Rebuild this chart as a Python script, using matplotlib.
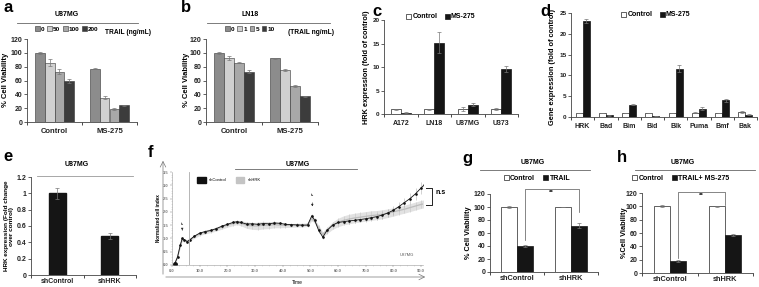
import numpy as np
import matplotlib.pyplot as plt
from matplotlib.patches import Patch
from matplotlib.lines import Line2D

plt.rcParams['font.family'] = ['Liberation Sans', 'DejaVu Sans']
plt.rcParams['font.weight'] = 'bold'

# ---- data ----
a_groups = ['Control', 'MS-275']
a_doses = ['0', '50', '100', '200']
a_vals = [[100, 77], [86, 35], [73, 19], [59, 24]]
a_err = [[1, 1], [5, 2], [3, 1], [3, 1]]

b_doses = ['0', '1', '5', '10']
b_vals = [[100, 92], [92, 75], [86, 52], [73, 37]]
b_err = [[1, 0.5], [3, 1], [1, 1], [2, 0.5]]

c_lines = ['A172', 'LN18', 'U87MG', 'U373']
c_ctrl = [1.0, 1.0, 1.1, 1.0]
c_ctrl_err = [0.05, 0.05, 0.4, 0.2]
c_ms = [0.3, 15.2, 2.0, 9.6]
c_ms_err = [0.05, 2.3, 0.4, 0.6]

d_genes = ['HRK', 'Bad', 'Bim', 'Bid', 'Blk', 'Puma', 'Bmf', 'Bak']
d_ctrl = [1.0, 1.0, 1.0, 1.0, 1.0, 1.0, 1.0, 1.2]
d_ctrl_err = [0.0, 0.0, 0.0, 0.0, 0.0, 0.1, 0.0, 0.15]
d_ms = [23.0, 0.4, 3.0, 0.3, 11.6, 2.0, 4.0, 0.6]
d_ms_err = [0.5, 0.05, 0.2, 0.05, 0.8, 0.3, 0.3, 0.1]

e_labels = ['shControl', 'shHRK']
e_vals = [1.0, 0.48]
e_err = [0.07, 0.04]

f_time = [1, 2, 3, 3.7, 4.5, 5.5, 6.5, 8, 10, 12, 14, 16, 18, 20, 22, 23.5, 25, 27,
          29, 31, 33, 35, 37, 39, 41, 43, 45, 47,
          49, 50.5, 51.5, 53, 54.5, 56, 58, 60, 62, 64, 66, 68, 70, 72, 74, 76, 78,
          80, 82, 84, 86, 88, 90, 91]
f_ctrl = [0.05, 0.3, 0.75, 1.0, 0.95, 0.88, 0.95, 1.08, 1.2, 1.26, 1.3, 1.37, 1.46, 1.53,
          1.6, 1.63, 1.6, 1.54, 1.55, 1.53, 1.56, 1.55, 1.58, 1.57, 1.53, 1.52, 1.51, 1.5,
          1.5, 1.85, 1.7, 1.3, 1.05, 1.3, 1.5, 1.6, 1.63, 1.66, 1.68, 1.71, 1.74, 1.78,
          1.82, 1.88, 1.96, 2.06, 2.2, 2.35, 2.5, 2.68, 2.9, 3.0]
f_ctrl_err = [0.02, 0.03, 0.04, 0.04, 0.04, 0.04, 0.04, 0.04, 0.05, 0.05, 0.05, 0.05, 0.05,
              0.05, 0.05, 0.05, 0.05, 0.06, 0.06, 0.06, 0.06, 0.06, 0.06, 0.06, 0.06, 0.06,
              0.06, 0.06,
              0.06, 0.08, 0.08, 0.08, 0.08, 0.08, 0.08, 0.08, 0.09, 0.1, 0.1, 0.1, 0.11,
              0.12, 0.13, 0.14, 0.15, 0.16, 0.17, 0.18, 0.2, 0.22, 0.24, 0.25]
f_hrk = [0.05, 0.3, 0.72, 0.97, 0.93, 0.9, 0.95, 1.06, 1.17, 1.24, 1.29, 1.35, 1.43, 1.5,
         1.56, 1.6, 1.57, 1.5, 1.47, 1.47, 1.5, 1.5, 1.52, 1.5, 1.49, 1.49, 1.5, 1.5,
         1.52, 1.75, 1.66, 1.4, 1.15, 1.3, 1.48, 1.6, 1.68, 1.73, 1.77, 1.8, 1.83, 1.86,
         1.88, 1.91, 1.95, 2.0, 2.05, 2.1, 2.16, 2.22, 2.28, 2.3]
f_hrk_err = [0.03, 0.04, 0.05, 0.05, 0.05, 0.05, 0.05, 0.06, 0.06, 0.07, 0.07, 0.07, 0.08,
             0.08, 0.08, 0.08, 0.1, 0.12, 0.13, 0.14, 0.14, 0.13, 0.12, 0.1, 0.08, 0.07,
             0.07, 0.07,
             0.07, 0.08, 0.08, 0.09, 0.1, 0.12, 0.14, 0.16, 0.17, 0.18, 0.18, 0.18, 0.18,
             0.18, 0.17, 0.17, 0.16, 0.16, 0.15, 0.15, 0.15, 0.15, 0.15, 0.15]

g_ctrl = [100, 100]
g_ctrl_err = [1.5, 0.5]
g_trail = [40, 71]
g_trail_err = [1.5, 4]

h_ctrl = [100, 100]
h_ctrl_err = [1.5, 1]
h_trail = [18, 57]
h_trail_err = [1, 1.5]

# ---- layout helpers (pixel coords, origin top-left) ----
W, H = 759, 287
fig = plt.figure(figsize=(W / 100, H / 100), dpi=100)


def fx(x):
    return x / W


def fy(y):
    return 1 - y / H


def box(x0, y0, x1, y1):
    return [x0 / W, 1 - y1 / H, (x1 - x0) / W, (y1 - y0) / H]


def excel_axes(x0, y0, x1, y1, fs=5):
    ax = fig.add_axes(box(x0, y0, x1, y1))
    ax.spines['top'].set_visible(False)
    ax.spines['right'].set_visible(False)
    for s in ['left', 'bottom']:
        ax.spines[s].set_linewidth(0.6)
        ax.spines[s].set_color('#444444')
    ax.tick_params(labelsize=fs, width=0.5, length=2, pad=1.2, colors='#222222')
    return ax


def cat_ticks(ax, labels, fs=5.5, pad=4):
    n = len(labels)
    ax.set_xlim(-0.5, n - 0.5)
    ax.set_xticks(range(n))
    ax.set_xticklabels(labels, fontsize=fs)
    ax.tick_params(axis='x', which='major', length=0, pad=pad)
    ax.set_xticks(np.arange(n + 1) - 0.5, minor=True)
    ax.tick_params(axis='x', which='minor', length=2, width=0.5)


def hline(x0, x1, y, color='#666666', lw=0.6):
    fig.add_artist(Line2D([fx(x0), fx(x1)], [fy(y), fy(y)], color=color, lw=lw))


def letter(x, y, s):
    fig.text(fx(x), fy(y), s, fontsize=12, fontweight='bold', va='center', ha='left')


def ylab(x, y, s, fs=5.5):
    fig.text(fx(x), fy(y), s, rotation=90, ha='center', va='center', fontsize=fs)


def flegend(handles, labels, x, y, ncol, fs=5, spacing=0.6):
    fig.legend(handles, labels, loc='center', bbox_to_anchor=(fx(x), fy(y)),
               ncol=ncol, fontsize=fs, frameon=False, handlelength=0.7,
               handleheight=0.7, handletextpad=0.2, columnspacing=spacing,
               borderpad=0, borderaxespad=0)


ekw = dict(ecolor='#777777', elinewidth=0.5, capsize=1.2, capthick=0.5)
grays = ['#8c8c8c', '#d0d0d0', '#a8a8a8', '#3c3c3c']


def dose_panel(rect, vals, errs, doses, title, tx, lx0, lx1, legx, trail, trx):
    ax = excel_axes(*rect)
    x = np.arange(len(a_groups))
    w = 0.18
    for i in range(len(doses)):
        ax.bar(x + (i - 1.5) * w, vals[i], w, yerr=errs[i], color=grays[i],
               edgecolor='#333333', lw=0.4, error_kw=ekw)
    ax.set_ylim(0, 120)
    ax.set_yticks(range(0, 121, 20))
    cat_ticks(ax, a_groups)
    fig.text(fx(tx), fy(15), title, fontsize=5, ha='center', va='center')
    hline(lx0, lx1, 23)
    handles = [Patch(facecolor=grays[i], edgecolor='#333333', lw=0.4) for i in range(4)]
    flegend(handles, doses, legx, 29, 4, fs=4.6, spacing=0.45)
    fig.text(fx(trx), fy(33), trail, fontsize=4.8, ha='center', va='center')
    return ax


# ---- a ----
letter(3, 8, 'a')
dose_panel((27, 39, 137, 122), a_vals, a_err, a_doses, 'U87MG', 67, 17, 138, 67,
           'TRAIL (ng/mL)', 128)
ylab(6, 80, '% Cell Viability')

# ---- b ----
letter(181, 8, 'b')
dose_panel((206, 39, 318, 122), b_vals, b_err, b_doses, 'LN18', 250, 207, 330, 250,
           '(TRAIL ng/mL)', 311)
ylab(187, 80, '% Cell Viability')


def pair_bars(ax, ctrl, ctrl_err, trt, trt_err, w):
    x = np.arange(len(ctrl))
    ax.bar(x - w / 2, ctrl, w, yerr=ctrl_err, color='white', edgecolor='#222222',
           lw=0.5, error_kw=ekw)
    ax.bar(x + w / 2, trt, w, yerr=trt_err, color='#151515', edgecolor='#151515',
           lw=0.5, error_kw=ekw)


ctrl_patch = Patch(facecolor='white', edgecolor='#222222', lw=0.5)
blk_patch = Patch(facecolor='#151515', edgecolor='#151515', lw=0.5)

# ---- c ----
letter(372, 12, 'c')
ax = excel_axes(384, 20, 518, 114, fs=4.6)
pair_bars(ax, c_ctrl, c_ctrl_err, c_ms, c_ms_err, 0.3)
ax.set_ylim(0, 20)
ax.set_yticks(range(0, 21, 5))
cat_ticks(ax, c_lines, 5)
ylab(366, 67, 'HRK expression (fold of control)', 5.3)
flegend([ctrl_patch, blk_patch], ['Control', 'MS-275'], 441, 17, 2, spacing=1.0)

# ---- d ----
letter(540, 12, 'd')
ax = excel_axes(571, 13, 757, 117, fs=4.6)
pair_bars(ax, d_ctrl, d_ctrl_err, d_ms, d_ms_err, 0.3)
ax.set_ylim(0, 25)
ax.set_yticks(range(0, 26, 5))
cat_ticks(ax, d_genes, 5)
ylab(553, 67, 'Gene expression (fold of control)', 5.3)
flegend([ctrl_patch, blk_patch], ['Control', 'MS-275'], 656, 15, 2, spacing=1.0)

# ---- e ----
letter(3, 157, 'e')
ax = excel_axes(31, 177, 136, 275)
ax.bar(range(2), e_vals, 0.32, yerr=e_err, color='#151515', edgecolor='#151515',
       error_kw=ekw)
ax.set_ylim(0, 1.2)
ax.set_yticks([0, 0.2, 0.4, 0.6, 0.8, 1.0, 1.2])
ax.set_yticklabels(['0', '0.2', '0.4', '0.6', '0.8', '1', '1.2'])
cat_ticks(ax, e_labels, 5, pad=2)
ylab(9, 226, 'HRK expression (Fold change\nover control)', 4.6)
fig.text(fx(77), fy(165), 'U87MG', fontsize=5, ha='center', va='center')
hline(37, 133, 176, '#999999')

# ---- f ----
letter(148, 153, 'f')
ax = fig.add_axes(box(172, 172, 423, 265))
ax.set_xlim(0, 90.7)
ax.set_ylim(0, 3.5)
for s in ['top', 'right']:
    ax.spines[s].set_visible(False)
for s in ['left', 'bottom']:
    ax.spines[s].set_linewidth(0.4)
    ax.spines[s].set_color('#999999')
ax.set_xticks(range(0, 91, 10))
ax.set_xticklabels(['%.1f' % v for v in range(0, 91, 10)])
ax.set_yticks(np.arange(0, 3.51, 0.5))
ax.set_yticklabels(['%.1f' % v for v in np.arange(0, 3.51, 0.5)])
ax.tick_params(labelsize=3, width=0.3, length=1.2, pad=1.5, colors='#777777')
ax.set_xticks(np.arange(0, 91, 2.5), minor=True)
ax.set_yticks(np.arange(0, 3.5, 0.1), minor=True)
ax.tick_params(which='minor', width=0.2, length=0.7, colors='#999999')
ft = np.array(f_time)
hk = np.array(f_hrk)
hke = np.array(f_hrk_err)
ax.fill_between(ft, hk - hke, hk + hke, color='#e2e2e2', lw=0)
ax.errorbar(ft, hk, yerr=hke, fmt='none', ecolor='#cccccc', elinewidth=0.5)
ax.plot(ft, hk, color='#bdbdbd', lw=0.9)
ax.errorbar(ft, f_ctrl, yerr=f_ctrl_err, fmt='none', ecolor='#b0b0b0', elinewidth=0.4)
ax.plot(ft, f_ctrl, color='#111111', lw=0.6, marker='o', ms=0.9)
ax.plot([1], [0.05], 'o', color='#111111', ms=2.5)
ax.axvline(6.1, color='#aaaaaa', lw=0.6)
ax.annotate('', xy=(3.7, 1.2), xytext=(3.7, 1.42),
            arrowprops=dict(arrowstyle='-|>', lw=0.4, color='#222222',
                            mutation_scale=3))
ax.text(3.7, 1.55, 't₁', fontsize=3, ha='center', va='center', color='#333333')
ax.annotate('', xy=(50.7, 2.1), xytext=(50.7, 2.45),
            arrowprops=dict(arrowstyle='-|>', lw=0.4, color='#222222',
                            mutation_scale=3))
ax.text(50.7, 2.65, 't₂', fontsize=3, ha='center', va='center', color='#333333')
ax.text(85, 0.38, 'U87MG', fontsize=3, ha='center', va='center', color='#555555',
        fontweight='normal')
fig.legend([Patch(color='#111111'), Patch(color='#c4c4c4')], ['shControl', 'shHRK'],
           loc='center', bbox_to_anchor=(fx(229), fy(180)), ncol=2,
           frameon=False, handlelength=2.0, handleheight=2.0, handletextpad=0.8,
           columnspacing=2.2, borderpad=0, borderaxespad=0,
           prop={'size': 3, 'weight': 'normal'})
# outer frame arrows
fig.add_artist(plt.Annotation('', xy=(fx(163), fy(158)), xytext=(fx(163), fy(277)),
                              xycoords='figure fraction',
                              arrowprops=dict(arrowstyle='->', lw=0.5, color='#777777')))
fig.add_artist(plt.Annotation('', xy=(fx(428), fy(277)), xytext=(fx(163), fy(277)),
                              xycoords='figure fraction',
                              arrowprops=dict(arrowstyle='->', lw=0.5, color='#777777')))
ylab(158, 218, 'Normalized cell index', 3.3)
fig.text(fx(297), fy(282), 'Time', fontsize=3.5, ha='center', va='center',
         fontweight='normal')
fig.text(fx(298), fy(164), 'U87MG', fontsize=5, ha='center', va='center')
hline(235, 357, 169)
# n.s bracket
fig.add_artist(Line2D([fx(426), fx(432), fx(432), fx(426)],
                      [fy(188), fy(188), fy(205), fy(205)], color='#222222', lw=0.7))
fig.text(fx(436), fy(193), 'n.s', fontsize=5, ha='left', va='center')


def via_panel(rect, ctrl, ctrl_err, trt, trt_err, lab, ylx, tx, lx0, lx1,
              legx, leg_lab, br_left_y, br_right_x, br_right_y, br_top):
    ax = excel_axes(*rect)
    w = 0.29
    pair_bars(ax, ctrl, ctrl_err, trt, trt_err, w)
    ax.set_ylim(0, 120)
    ax.set_yticks(range(0, 121, 20))
    cat_ticks(ax, e_labels, 5.3, pad=2)
    ylab(ylx, 233, lab, 5.3)
    fig.text(fx(tx), fy(163), 'U87MG', fontsize=5, ha='center', va='center')
    hline(lx0, lx1, 170)
    flegend([ctrl_patch, blk_patch], ['Control', leg_lab], legx, 178, 2, spacing=1.2)
    xl = w / 2
    ax.plot([xl, xl, br_right_x, br_right_x], [br_left_y, br_top, br_top, br_right_y],
            color='#555555', lw=0.5, clip_on=False)
    ax.text((xl + br_right_x) / 2, br_top - 6, '**', fontsize=4.5, ha='center',
            va='center')
    return ax


# ---- g ----
letter(462, 158, 'g')
via_panel((490, 194, 598, 272), g_ctrl, g_ctrl_err, g_trail, g_trail_err, '% Cell Viability',
          469, 533, 480, 590, 537, 'TRAIL', 50, 1 + 0.29 / 2, 92, 128)

# ---- h ----
letter(617, 158, 'h')
via_panel((642, 193, 753, 273), h_ctrl, h_ctrl_err, h_trail, h_trail_err, '%Cell Viability',
          624, 683, 635, 755, 681, 'TRAIL+ MS-275', 22, 1.0, 102, 122)

fig.savefig('out.png', dpi=100)
